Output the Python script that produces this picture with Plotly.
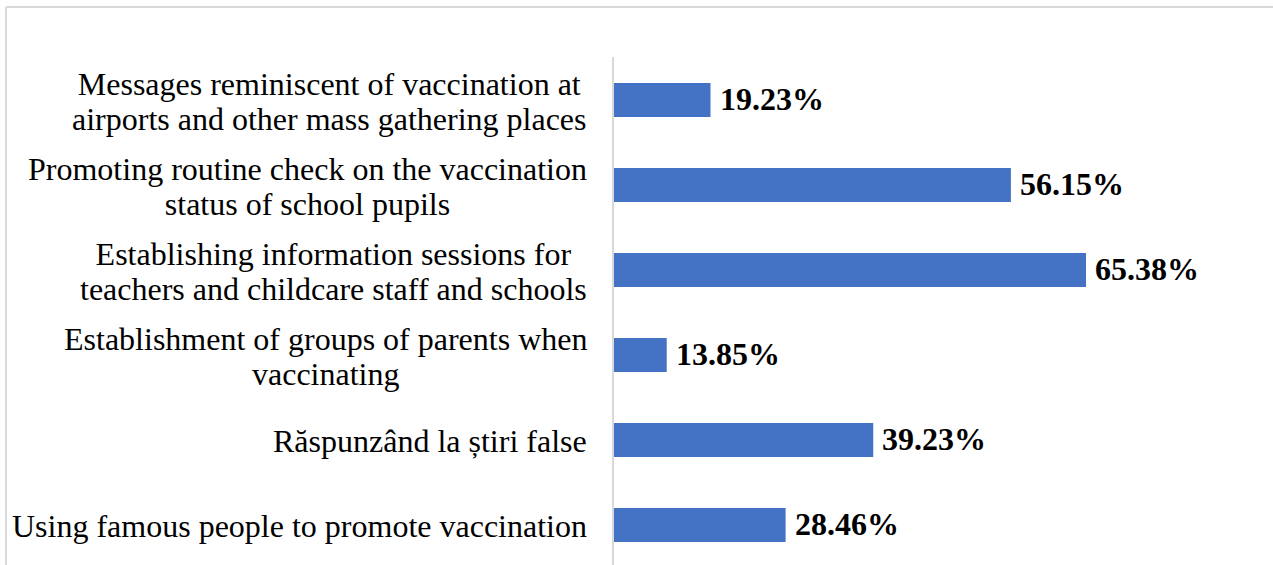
import plotly.graph_objects as go

# ---- data ----
categories = [
    "Messages reminiscent of vaccination at<br>airports and other mass gathering places",
    "Promoting routine check on the vaccination<br>status of school pupils",
    "Establishing information sessions for<br>teachers and childcare staff and schools",
    "Establishment of groups of parents when<br>vaccinating",
    "Răspunzând la știri false",
    "Using famous people to promote vaccination",
]
values = [19.23, 56.15, 65.38, 13.85, 39.23, 28.46]
value_labels = ["19.23%", "56.15%", "65.38%", "13.85%", "39.23%", "28.46%"]

BAR_COLOR = "#4472C4"
FONT = "Liberation Serif"

W, H = 1273, 565
ML, MT = 614, 57
plot_h = H - MT
px_per_cat = 85
y_top = -0.506
y_bot = y_top + plot_h / px_per_cat

fig = go.Figure()
fig.add_trace(go.Bar(
    x=values, y=categories, orientation="h",
    marker=dict(color=BAR_COLOR, line=dict(width=0)),
    width=0.4, hoverinfo="skip",
))

annotations = []
for cat in categories:
    lines = cat.split("<br>")
    txt = "<br>".join(
        '<span style="font-size:32px;font-family:Liberation Serif">%s</span>' % ln
        for ln in lines)
    annotations.append(dict(
        text=txt, xref="paper", yref="y", x=0, y=cat,
        xanchor="right", yanchor="middle", align="center",
        xshift=-25, yshift=-1, showarrow=False,
        font=dict(family=FONT, size=27, color="#000000"),
    ))
for cat, v, lab in zip(categories, values, value_labels):
    annotations.append(dict(
        text="<b>%s</b>" % lab, xref="x", yref="y", x=v, y=cat,
        xanchor="left", yanchor="middle", xshift=7, yshift=1, showarrow=False,
        font=dict(family=FONT, size=32, color="#000000"),
    ))

def px_x(p):
    return (p - ML) / (W - ML)

def px_y(p):
    return (H - p) / plot_h

shapes = [
    dict(type="line", xref="paper", yref="paper",
         x0=px_x(6), x1=px_x(W + 10), y0=px_y(7), y1=px_y(7),
         line=dict(color="#d9d9d9", width=2)),
    dict(type="line", xref="paper", yref="paper",
         x0=px_x(6), x1=px_x(6), y0=px_y(7), y1=px_y(H + 10),
         line=dict(color="#d9d9d9", width=2)),
]

fig.update_layout(
    width=W, height=H,
    margin=dict(l=ML, r=0, t=MT, b=0, pad=0),
    paper_bgcolor="white", plot_bgcolor="white",
    showlegend=False,
    xaxis=dict(range=[7.37, 88.36], visible=False, showgrid=False, zeroline=False),
    yaxis=dict(type="category", categoryorder="array", categoryarray=categories,
               range=[y_bot, y_top], showticklabels=False, ticks="",
               showgrid=False, zeroline=False,
               showline=True, linecolor="#d9d9d9", linewidth=1.5),
    annotations=annotations,
    shapes=shapes,
)

fig.write_html("out.html",
               config={"displayModeBar": False},
               post_script="document.body.style.margin='0px';document.body.style.overflow='hidden';")
